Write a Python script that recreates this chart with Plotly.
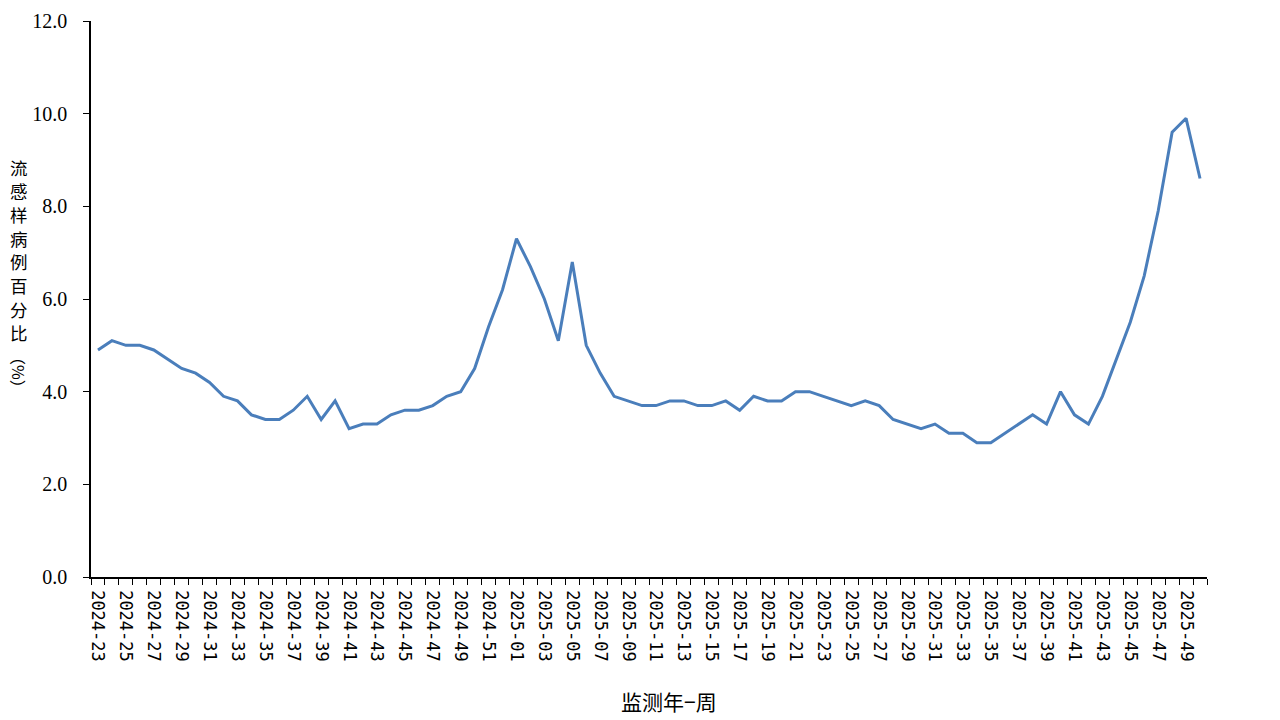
import plotly.graph_objects as go

weeks_2024 = [f"2024-{w:02d}" for w in range(23, 53)]
weeks_2025 = [f"2025-{w:02d}" for w in range(1, 51)]
weeks = weeks_2024 + weeks_2025

values = [
    4.9, 5.1, 5.0, 5.0, 4.9, 4.7, 4.5, 4.4, 4.2, 3.9,
    3.8, 3.5, 3.4, 3.4, 3.6, 3.9, 3.4, 3.8, 3.2, 3.3,
    3.3, 3.5, 3.6, 3.6, 3.7, 3.9, 4.0, 4.5, 5.4, 6.2,
    7.3, 6.7, 6.0, 5.1, 6.8, 5.0, 4.4, 3.9, 3.8, 3.7,
    3.7, 3.8, 3.8, 3.7, 3.7, 3.8, 3.6, 3.9, 3.8, 3.8,
    4.0, 4.0, 3.9, 3.8, 3.7, 3.8, 3.7, 3.4, 3.3, 3.2,
    3.3, 3.1, 3.1, 2.9, 2.9, 3.1, 3.3, 3.5, 3.3, 4.0,
    3.5, 3.3, 3.9, 4.7, 5.5, 6.5, 7.9, 9.6, 9.9, 8.6,
]

y_ticks = [0, 2, 4, 6, 8, 10, 12]
y_title = "流感样病例百分比"
y_unit = "（%）"
x_title = "监测年−周"

idx = list(range(len(weeks)))
tick_idx = idx[::2]
tick_text = weeks[::2]

PLOT_TOP, PLOT_H = 21, 556  # viewport pixels of the plot area

def py(pix):
    return (PLOT_TOP + PLOT_H - pix) / PLOT_H

fig = go.Figure()
fig.add_trace(go.Scatter(
    x=idx, y=values, mode="lines",
    line=dict(color="#4A7EBB", width=3),
    hoverinfo="skip", showlegend=False,
))

fig.update_layout(
    width=1272, height=712,
    margin=dict(l=83, r=73, t=13, b=143),
    paper_bgcolor="white", plot_bgcolor="white",
    font=dict(family="Liberation Serif, Noto Sans CJK SC", color="black"),
    xaxis=dict(
        range=[-0.5, len(weeks) - 0.5], automargin=False,
        tickmode="array", tickvals=tick_idx, ticktext=tick_text,
        tickangle=90, ticks="",
        tickfont=dict(family="DejaVu Sans Mono", size=17, color="black"),
        ticklabelstandoff=8,
        showline=True, linecolor="black", linewidth=1.5,
        showgrid=False, zeroline=False,
        minor=dict(ticks="outside", tickmode="linear", tick0=-0.5, dtick=1,
                   ticklen=6, tickcolor="black", tickwidth=1, showgrid=False),
    ),
    yaxis=dict(
        range=[0, 12], automargin=False, tickmode="array", tickvals=y_ticks,
        tickformat=".1f", ticks="outside", ticklen=6, tickcolor="black",
        tickfont=dict(family="Liberation Serif", size=20, color="black"),
        ticklabelstandoff=12,
        showline=True, linecolor="black", linewidth=1.5,
        showgrid=False, zeroline=False,
    ),
)

for i, ch in enumerate(y_title):
    fig.add_annotation(
        text=ch, xref="paper", yref="paper", x=(19 - 91) / 1116, y=py(167 + 23.7 * i),
        xanchor="center", yanchor="middle", showarrow=False, borderpad=0,
        font=dict(family="Noto Sans CJK SC", size=17.5, color="black"),
    )
fig.add_annotation(
    text=y_unit, xref="paper", yref="paper", x=(19 - 91) / 1116, y=py(372),
    xanchor="center", yanchor="middle", showarrow=False, textangle=90, borderpad=0,
    font=dict(family="Noto Sans CJK SC", size=16, color="black"),
)
fig.add_annotation(
    text=x_title, xref="paper", yref="paper", x=(669 - 91) / 1116, y=py(701),
    xanchor="center", yanchor="middle", showarrow=False,
    font=dict(family="Noto Sans CJK SC", size=21, color="black"),
)

fig.write_html("out.html")
